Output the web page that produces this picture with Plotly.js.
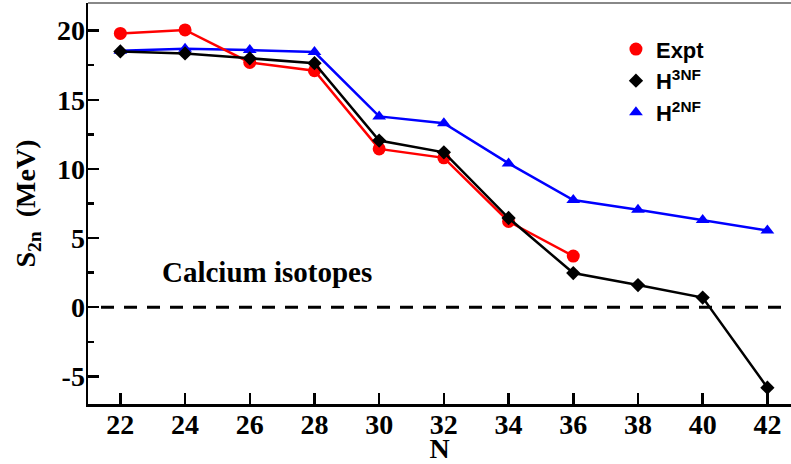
<!DOCTYPE html>
<html>
<head>
<meta charset="utf-8">
<script src="https://cdn.plot.ly/plotly-3.0.1.min.js"></script>
<style>html,body{margin:0;padding:0;background:#fff;}#chart{width:791px;height:464px;}</style>
</head>
<body>
<div id="chart"></div>
<script>
// Neutron number N
var nExpt = [22, 24, 26, 28, 30, 32, 34, 36];
var nTheory = [22, 24, 26, 28, 30, 32, 34, 36, 38, 40, 42];
// Two-neutron separation energies S2n (MeV)
var s2nExpt = [19.8, 20.05, 17.7, 17.1, 11.45, 10.8, 6.2, 3.7];
var s2nH3NF = [18.5, 18.35, 18.0, 17.65, 12.05, 11.2, 6.45, 2.47, 1.6, 0.7, -5.82];
var s2nH2NF = [18.55, 18.7, 18.6, 18.45, 13.8, 13.3, 10.4, 7.75, 7.05, 6.3, 5.55];
// Tick labels
var xTickVals = [22, 24, 26, 28, 30, 32, 34, 36, 38, 40, 42];
var xTickText = ["22", "24", "26", "28", "30", "32", "34", "36", "38", "40", "42"];
var yTickVals = [-5, 0, 5, 10, 15, 20];
var yTickText = ["-5", "0", "5", "10", "15", "20"];
var yMinorVals = [-2.5, 2.5, 7.5, 12.5, 17.5];
var seriesNames = ["Expt", "H<sup>3NF</sup>", "H<sup>2NF</sup>"];

var red = "#ff0000", blk = "#000000", blu = "#0000ff";
var serif = "Liberation Serif, Times New Roman, serif";
var sans = "Liberation Sans, Arial, sans-serif";

var traces = [
  {x: nTheory, y: s2nH2NF, mode: "lines+markers", showlegend: false,
   line: {color: blu, width: 2.5}, marker: {symbol: "triangle-up", size: 12, color: blu}},
  {x: nExpt, y: s2nExpt, mode: "lines+markers", showlegend: false,
   line: {color: red, width: 2.5}, marker: {symbol: "circle", size: 13, color: red}},
  {x: nTheory, y: s2nH3NF, mode: "lines+markers", showlegend: false,
   line: {color: blk, width: 2.5}, marker: {symbol: "diamond", size: 11, color: blk}},
  // legend entries (markers only)
  {x: [null], y: [null], mode: "markers", name: seriesNames[0], marker: {symbol: "circle", size: 13, color: red}},
  {x: [null], y: [null], mode: "markers", name: seriesNames[1], marker: {symbol: "diamond", size: 11, color: blk}},
  {x: [null], y: [null], mode: "markers", name: seriesNames[2], marker: {symbol: "triangle-up", size: 12, color: blu}}
];

var layout = {
  width: 791, height: 464,
  margin: {l: 88, r: 0, t: 3, b: 60},
  paper_bgcolor: "#fff", plot_bgcolor: "#fff",
  showlegend: true,
  legend: {x: 0.751, y: 0.937, xanchor: "left", yanchor: "top", bgcolor: "rgba(0,0,0,0)",
    font: {family: sans, size: 22, weight: 700, color: "#000"}, traceorder: "normal"},
  xaxis: {
    range: [21, 42.73], showgrid: false, zeroline: false,
    showline: true, linecolor: "#000", linewidth: 2.5,
    tickmode: "array", tickvals: xTickVals, ticktext: xTickText,
    ticks: "inside", ticklen: 11, tickwidth: 2.5, tickcolor: "#000",
    ticklabelstandoff: -6,
    tickfont: {family: serif, size: 28, weight: 700, color: "#000"},
    title: {text: "N", font: {family: serif, size: 28, weight: 700, color: "#000"}, standoff: 0},
    automargin: false
  },
  yaxis: {
    range: [-7, 22], showgrid: false, zeroline: false,
    showline: true, linecolor: "#000", linewidth: 2.5,
    tickmode: "array", tickvals: yTickVals, ticktext: yTickText,
    ticks: "inside", ticklen: 11, tickwidth: 2.5, tickcolor: "#000",
    ticklabelstandoff: -5,
    minor: {tickmode: "array", tickvals: yMinorVals, ticks: "inside", ticklen: 6, tickwidth: 2.5, tickcolor: "#000"},
    tickfont: {family: serif, size: 28, weight: 700, color: "#000"},
    title: {text: "S<sub>2n</sub>\u00a0\u00a0(MeV)", font: {family: serif, size: 28, weight: 700, color: "#000"}, standoff: 13},
    automargin: false
  },
  shapes: [
    {type: "line", xref: "paper", yref: "paper", x0: 0, x1: 1, y0: 1, y1: 1, line: {color: "#888", width: 2}},
    {type: "line", xref: "paper", yref: "y", x0: 0.0185, x1: 1, y0: 0, y1: 0, line: {color: "#000", width: 3, dash: "13px,10px"}}
  ],
  annotations: [
    {text: "Calcium isotopes", xref: "paper", yref: "paper", x: 0.255, y: 0.33, xanchor: "center", yanchor: "middle",
     showarrow: false, font: {family: serif, size: 29, weight: 700, color: "#000"}}
  ]
};

Plotly.newPlot("chart", traces, layout, {displayModeBar: false, staticPlot: true});
</script>
</body>
</html>
